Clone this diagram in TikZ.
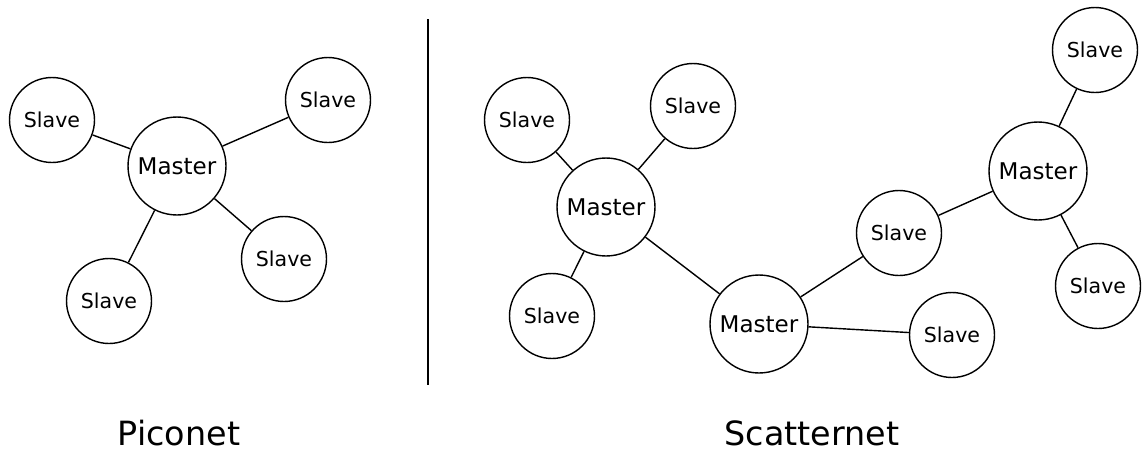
\documentclass[tikz,border=0pt]{standalone}
\usepackage{fontspec}
\setmainfont{DejaVu Sans}

\tikzset{
	slave/.style = {draw, circle, line width = 0.8pt, minimum size = 1.7cm, inner sep = 0pt, font = \fontsize{11.7}{14}\selectfont},
	master/.style = {draw, circle, line width = 0.8pt, minimum size = 1.96cm, inner sep = 0pt, font = \fontsize{13.1}{15}\selectfont},
	netname/.style = {anchor = base, inner sep = 0pt, font = \fontsize{19}{23}\selectfont},
	link/.style = {line width = 0.8pt}
}

\begin{document}
\begin{tikzpicture}[x = 0.02cm, y = -0.02cm]

	\useasboundingbox (0, 0) rectangle (1143, 450);

	% Piconet

	\node [master] (pm) at (177, 166) {Master};
	\node [slave] (ps1) at (52, 120) {Slave};
	\node [slave] (ps2) at (328, 100) {Slave};
	\node [slave] (ps3) at (284, 259) {Slave};
	\node [slave] (ps4) at (109, 301) {Slave};

	\foreach \s in {ps1, ps2, ps3, ps4}
		\draw [link] (pm) -- (\s);

	% Divider

	\coordinate (dtop) at (428, 19);
	\coordinate (dbot) at (428, 385);
	\draw [link] (dtop) -- (dbot);

	% Scatternet

	\node [master] (sm1) at (606, 207) {Master};
	\node [master] (sm2) at (759, 324) {Master};
	\node [master] (sm3) at (1038, 171) {Master};

	\node [slave] (ss1) at (527, 120) {Slave};
	\node [slave] (ss2) at (693, 106) {Slave};
	\node [slave] (ss3) at (552, 316) {Slave};
	\node [slave] (ss4) at (899, 233) {Slave};
	\node [slave] (ss5) at (952, 335) {Slave};
	\node [slave] (ss6) at (1095, 50) {Slave};
	\node [slave] (ss7) at (1098, 286) {Slave};

	\foreach \a/\b in {sm1/ss1, sm1/ss2, sm1/ss3, sm1/sm2, sm2/ss4, sm2/ss5, ss4/sm3, sm3/ss6, sm3/ss7}
		\draw [link] (\a) -- (\b);

	% Titles

	\node [netname] (pico) at (179, 445) {Piconet};
	\node [netname] (scatter) at (812, 445) {Scatternet};

\end{tikzpicture}
\end{document}
